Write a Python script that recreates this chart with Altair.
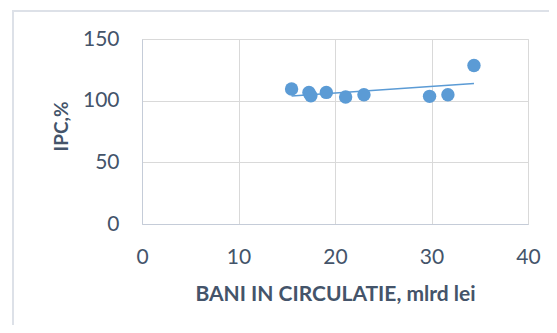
import altair as alt
import pandas as pd

bani = [15.5, 17.3, 17.5, 19.1, 21.1, 23.0, 29.8, 31.7, 34.4]
ipc = [109.4, 106.7, 104.0, 106.7, 103.0, 104.8, 103.5, 104.8, 128.5]
x_ticks = [0, 10, 20, 30, 40]
y_ticks = [0, 50, 100, 150]

df = pd.DataFrame({"x": bani, "y": ipc})

FONT = "Lato"
TXT = "#44546A"
BLUE = "#5B9BD5"

xenc = alt.X("x:Q", scale=alt.Scale(domain=[0, 40], nice=False),
             axis=alt.Axis(values=x_ticks, title="BANI IN CIRCULATIE, mlrd lei",
                           grid=True, gridColor="#D9D9D9", domainColor="#C5CCD8",
                           ticks=False, labelFlush=False, labelOverlap=False,
                           labelFontSize=21, labelColor=TXT, labelFont=FONT,
                           labelPadding=22, titleFont=FONT, titleFontSize=21,
                           titleFontWeight="bold", titleColor=TXT, titlePadding=16))
yenc = alt.Y("y:Q", scale=alt.Scale(domain=[0, 150], nice=False),
             axis=alt.Axis(values=y_ticks, title="IPC,%",
                           grid=True, gridColor="#D9D9D9", domainColor="#C5CCD8",
                           ticks=False, labelFlush=False, labelOverlap=False,
                           labelFontSize=21, labelColor=TXT, labelFont=FONT,
                           labelPadding=23, titleFont=FONT, titleFontSize=19,
                           titleFontWeight="bold", titleColor=TXT,
                           titleX=-71, titleY=87, titleBaseline="bottom",
                           titleAlign="center", titleAngle=270))

frame = alt.Chart(df).mark_rect(fill=None, stroke="#DDE1E8", strokeWidth=2, clip=False).encode(
    x=alt.value(-129), x2=alt.value(700), y=alt.value(-28), y2=alt.value(500))

points = alt.Chart(df).mark_circle(size=180, color=BLUE, opacity=1).encode(x=xenc, y=yenc)

trend = alt.Chart(df).transform_regression("x", "y").mark_line(
    color=BLUE, strokeWidth=1.5).encode(x="x:Q", y="y:Q")

chart = alt.layer(frame, trend, points).properties(
    width=386, height=185,
    autosize=alt.AutoSizeParams(type="none"),
    padding={"left": 134, "top": 31, "right": 21, "bottom": 101},
).configure_view(stroke="#D9D9D9").configure(background="white")

chart.save("out.html", embed_options={"renderer": "svg", "actions": False})
